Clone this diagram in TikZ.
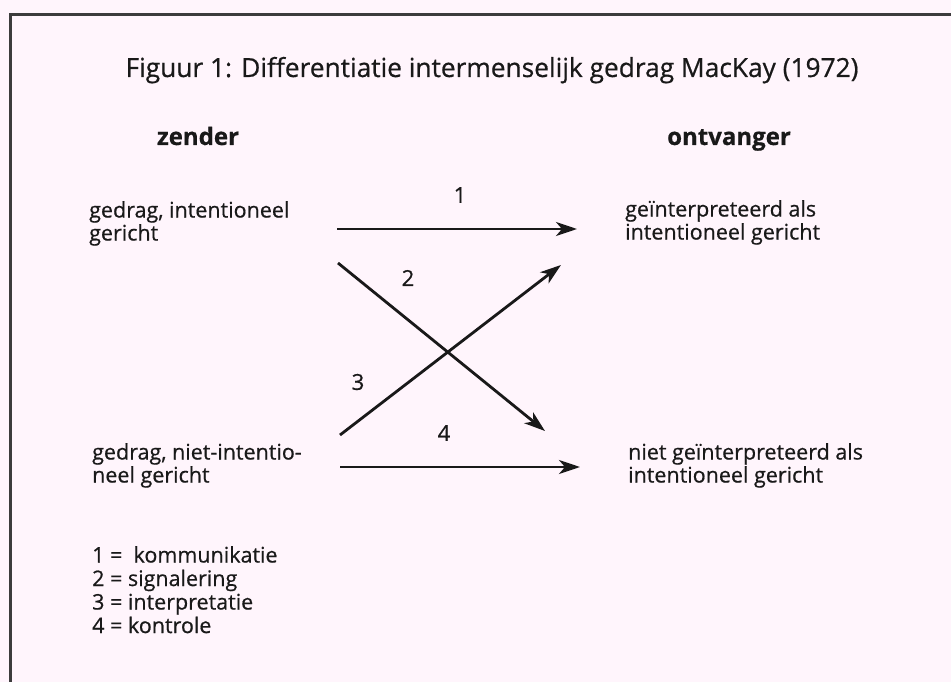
\documentclass[tikz,border=0pt]{standalone}
\usepackage{fontspec}
\setmainfont{Open Sans}[FakeBold=0.6]
\usetikzlibrary{arrows.meta}
\definecolor{bgpink}{RGB}{255,245,252}
\definecolor{ink}{RGB}{25,25,25}
\begin{document}
\begin{tikzpicture}[x=1pt,y=-1pt,
  txt/.style={inner sep=0pt,text=ink,font=\fontsize{21.5}{23}\selectfont,align=left},
  hdr/.style={inner sep=0pt,text=ink,font=\fontsize{24}{26}\selectfont\bfseries},
  num/.style={inner sep=0pt,text=ink,font=\fontsize{22}{24}\selectfont},
  arr/.style={draw=ink,line width=2.8pt,-{Stealth[length=21pt,width=14pt,inset=6pt]}},
  frame/.style={draw=ink!85,line width=3pt}]
\fill[bgpink] (0,0) rectangle (951,682);
\useasboundingbox (0,0) rectangle (951,682);
\coordinate (fb) at (10,682);
\coordinate (ftl) at (10,15);
\coordinate (fr) at (951,15);
\draw[frame] (fb) -- (ftl) -- (fr);
\node[inner sep=0pt,text=ink,font=\fontsize{26.3}{28}\selectfont,anchor=base] (title) at (492,77)
  {Figuur 1: Differentiatie intermenselijk gedrag MacKay (1972)};
\node[hdr,anchor=base] (zender) at (198,145) {zender};
\node[hdr,anchor=base] (ontv) at (729,145) {ontvanger};
\node[txt,anchor=north west] (l1) at (89,201) {gedrag, intentioneel\\gericht};
\node[txt,anchor=north west] (l2) at (92,443) {gedrag, niet-intentio-\\neel gericht};
\node[txt,anchor=north west] (r1) at (625,200) {geïnterpreteerd als\\intentioneel gericht};
\node[txt,anchor=north west] (r2) at (628,443) {niet geïnterpreteerd als\\intentioneel gericht};
\coordinate (a1s) at (337,229); \coordinate (a1e) at (577,229);
\coordinate (a2s) at (338,263); \coordinate (a2e) at (545,431);
\coordinate (a3s) at (340,435); \coordinate (a3e) at (561,265);
\coordinate (a4s) at (340,467); \coordinate (a4e) at (580,467);
\draw[arr] (a1s) -- (a1e);
\draw[arr] (a2s) -- (a2e);
\draw[arr] (a3s) -- (a3e);
\draw[arr] (a4s) -- (a4e);
\node[num] (n1) at (460,195) {1};
\node[num] (n2) at (408,278) {2};
\node[num] (n3) at (358,382) {3};
\node[num] (n4) at (444,433) {4};
\node[inner sep=0pt,text=ink,font=\fontsize{21.5}{23.5}\selectfont,align=left,anchor=north west] (legend) at (92,546)
  {1 = \ kommunikatie\\2 = signalering\\3 = interpretatie\\4 = kontrole};
\end{tikzpicture}
\end{document}
